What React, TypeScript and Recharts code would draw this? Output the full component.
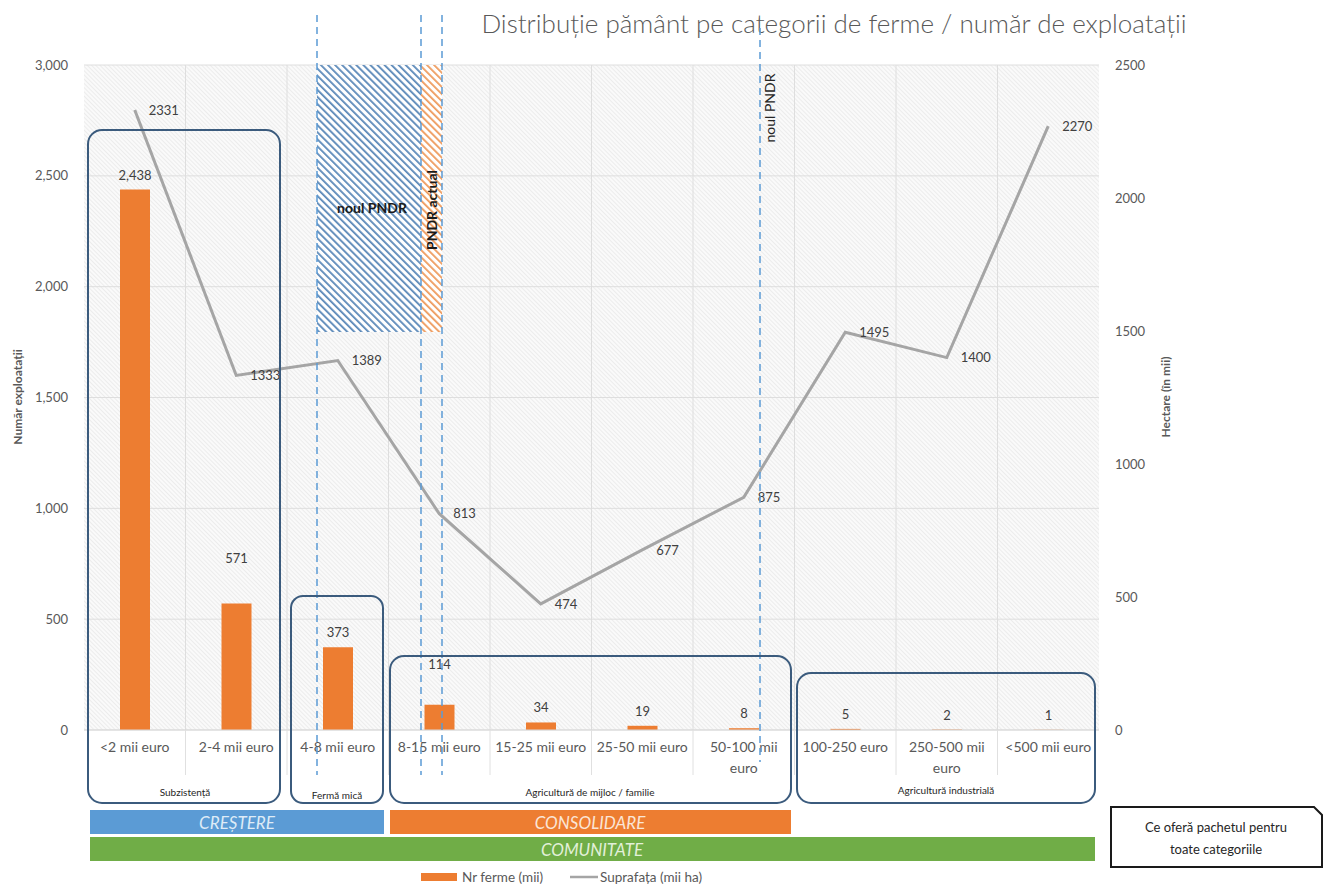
import React from "react";
import {
  ComposedChart,
  Bar,
  Line,
  XAxis,
  YAxis,
  CartesianGrid,
  LabelList,
} from "recharts";

// categorii (prag de dimensiune economica)
const categories = [
  "<2 mii euro",
  "2-4 mii euro",
  "4-8 mii euro",
  "8-15 mii euro",
  "15-25 mii euro",
  "25-50 mii euro",
  "50-100 mii\neuro",
  "100-250 euro",
  "250-500 mii\neuro",
  "<500 mii euro",
];
// Nr ferme (mii)
const nrFerme = [2438, 571, 373, 114, 34, 19, 8, 5, 2, 1];
// Suprafata (mii ha)
const suprafata = [2331, 1333, 1389, 813, 474, 677, 875, 1495, 1400, 2270];

const leftTicks = [0, 500, 1000, 1500, 2000, 2500, 3000];
const rightTicks = [0, 500, 1000, 1500, 2000, 2500];

const data = categories.map((cat, i) => ({
  cat,
  ferme: nrFerme[i],
  suprafata: suprafata[i],
}));

// some bar labels were pushed up in the original
const barLabelRaise: Record<number, number> = { 1: 30, 3: 26 };

const W = 1324;
const H = 884;
const PLOT_LEFT = 84;
const PLOT_RIGHT = 1099;
const PLOT_TOP = 65;
const PLOT_BOTTOM = 730;
const BAND = (PLOT_RIGHT - PLOT_LEFT) / categories.length;

const FONT = "Lato, 'Open Sans', sans-serif";
const GREY = "#595959";

const CatTick = (props: any) => {
  const { x, y, payload } = props;
  const lines = String(payload.value).split("\n");
  return (
    <g>
      {lines.map((l, i) => (
        <text
          key={i}
          x={x}
          y={y + 14 + i * 21}
          textAnchor="middle"
          fontSize={14}
          fill={GREY}
        >
          {l}
        </text>
      ))}
    </g>
  );
};

const BarValueLabel = (props: any) => {
  const { x, y, width, value, index } = props;
  const raise = barLabelRaise[index] || 0;
  return (
    <text
      x={x + width / 2}
      y={y - 10 - raise}
      textAnchor="middle"
      fontSize={13}
      fill="#404040"
    >
      {Number(value).toLocaleString("en-US")}
    </text>
  );
};

function Overlay() {
  const box = "#3b5b7d";
  const dash = "#5b9bd5";
  const sep = [];
  for (let i = 1; i < categories.length; i++) {
    const x = PLOT_LEFT + i * BAND;
    sep.push(
      <line key={i} x1={x} x2={x} y1={PLOT_BOTTOM} y2={775} stroke="#e0e0e0" />
    );
  }
  return (
    <svg
      width={W}
      height={H}
      style={{ position: "absolute", left: 0, top: 0, pointerEvents: "none" }}
    >
      <defs>
        <pattern id="hatchBlue" width="5" height="5" patternUnits="userSpaceOnUse" patternTransform="rotate(-45)">
          <rect width="5" height="5" fill="#ffffff" />
          <rect width="1.8" height="5" fill="#5a88b8" />
        </pattern>
        <pattern id="hatchOrange" width="5" height="5" patternUnits="userSpaceOnUse" patternTransform="rotate(-45)">
          <rect width="5" height="5" fill="#ffffff" />
          <rect width="1.8" height="5" fill="#ee9a5c" />
        </pattern>
      </defs>

      {sep}

      {/* title */}
      <text x={834} y={33} textAnchor="middle" fontSize={26} fontWeight={300} fill={GREY}>
        Distribuție pământ pe categorii de ferme / număr de exploatații
      </text>

      {/* axis titles */}
      <text transform="translate(22,397) rotate(-90)" textAnchor="middle" fontSize={12} fontWeight={700} fill={GREY}>
        Număr exploatații
      </text>
      <text transform="translate(1170,397) rotate(-90)" textAnchor="middle" fontSize={12} fontWeight={700} fill={GREY}>
        Hectare (în mii)
      </text>

      {/* hatched zones */}
      <rect x={317} y={PLOT_TOP} width={104} height={267} fill="url(#hatchBlue)" />
      <rect x={421} y={PLOT_TOP} width={21} height={267} fill="url(#hatchOrange)" />
      <text x={372} y={213} textAnchor="middle" fontSize={14} fontWeight={700} fill="#1a1a1a">
        noul PNDR
      </text>
      <text transform="translate(437,210) rotate(-90)" textAnchor="middle" fontSize={14} fontWeight={700} fill="#1a1a1a">
        PNDR actual
      </text>

      {/* dashed limits */}
      {[317, 421, 442].map((x) => (
        <line key={x} x1={x} x2={x} y1={15} y2={775} stroke={dash} strokeWidth={1.5} strokeDasharray="7 5" />
      ))}
      <line x1={760} x2={760} y1={28} y2={762} stroke={dash} strokeWidth={1.5} strokeDasharray="7 5" />
      <text transform="translate(775,108) rotate(-90)" textAnchor="middle" fontSize={14} fill="#262626">
        noul PNDR
      </text>

      {/* category groups */}
      <rect x={88} y={130} width={192} height={673} rx={14} fill="none" stroke={box} strokeWidth={2} />
      <rect x={291} y={596} width={92} height={207} rx={12} fill="none" stroke={box} strokeWidth={2} />
      <rect x={390} y={656} width={401} height={147} rx={14} fill="none" stroke={box} strokeWidth={2} />
      <rect x={797} y={673} width={298} height={130} rx={14} fill="none" stroke={box} strokeWidth={2} />
      <g fontSize={10} fill="#262626" textAnchor="middle">
        <text x={185} y={796}>Subzistență</text>
        <text x={337} y={799}>Fermă mică</text>
        <text x={590} y={796}>Agricultură de mijloc / familie</text>
        <text x={946} y={794}>Agricultură industrială</text>
      </g>

      {/* bands */}
      <rect x={90} y={810} width={294} height={24} fill="#5b9bd5" />
      <rect x={390} y={810} width={401} height={24} fill="#ed7d31" />
      <rect x={90} y={837} width={1005} height={24} fill="#70ad47" />
      <g fontSize={17} fontStyle="italic" textAnchor="middle">
        <text x={237} y={829} fill="#deebf7">CREȘTERE</text>
        <text x={590} y={829} fill="#fbe5d6">CONSOLIDARE</text>
        <text x={592} y={856} fill="#e2f0d9">COMUNITATE</text>
      </g>

      {/* side note */}
      <path d="M1111,807 L1314,807 L1322,815 L1322,867 L1111,867 Z" fill="#fff" stroke="#1a1a1a" strokeWidth={2} />
      <g fontSize={13} fill="#262626" textAnchor="middle">
        <text x={1216} y={832}>Ce oferă pachetul pentru</text>
        <text x={1216} y={854}>toate categoriile</text>
      </g>

      {/* legend */}
      <rect x={421} y={873} width={36} height={8} fill="#ed7d31" />
      <text x={462} y={882} fontSize={13.5} fill={GREY}>Nr ferme (mii)</text>
      <line x1={570} x2={598} y1={877} y2={877} stroke="#a5a5a5" strokeWidth={2.5} />
      <text x={600} y={882} fontSize={13.5} fill={GREY}>Suprafața (mii ha)</text>
    </svg>
  );
}

export default function App() {
  return (
    <div
      style={{
        position: "absolute",
        left: 0,
        top: 0,
        width: W,
        height: H,
        background: "#fff",
        fontFamily: FONT,
      }}
    >
      <svg width={0} height={0} style={{ position: "absolute" }}>
        <defs>
          <pattern id="plotHatch" width="3" height="3" patternUnits="userSpaceOnUse" patternTransform="rotate(-45)">
            <rect width="3" height="3" fill="#fafafa" />
            <rect width="1" height="3" fill="#ececec" />
          </pattern>
        </defs>
      </svg>
      <ComposedChart
        width={W}
        height={H}
        data={data}
        margin={{ top: PLOT_TOP, right: 0, left: 0, bottom: 0 }}
      >
        <CartesianGrid
          yAxisId="left"
          stroke="#dedede"
          fill="url(#plotHatch)"
          verticalCoordinatesGenerator={({ offset }: any) =>
            categories.slice(1).map((_, i) => offset.left + ((i + 1) * offset.width) / categories.length)
          }
        />
        <XAxis
          dataKey="cat"
          height={H - PLOT_BOTTOM}
          tickLine={false}
          axisLine={{ stroke: "#d9d9d9" }}
          tick={<CatTick />}
          interval={0}
        />
        <YAxis
          yAxisId="left"
          width={PLOT_LEFT}
          domain={[0, 3000]}
          ticks={leftTicks}
          tickFormatter={(v) => Number(v).toLocaleString("en-US")}
          axisLine={false}
          tickLine={false}
          tickMargin={10}
          tick={{ fontSize: 13, fill: GREY }}
        />
        <YAxis
          yAxisId="right"
          orientation="right"
          width={W - PLOT_RIGHT}
          domain={[0, 2500]}
          ticks={rightTicks}
          axisLine={false}
          tickLine={false}
          tickMargin={10}
          tick={{ fontSize: 13, fill: GREY }}
        />
        <Bar yAxisId="left" dataKey="ferme" name="Nr ferme (mii)" fill="#ed7d31" barSize={30} isAnimationActive={false}>
          <LabelList dataKey="ferme" content={<BarValueLabel />} />
        </Bar>
        <Line
          yAxisId="right"
          type="linear"
          dataKey="suprafata"
          name="Suprafața (mii ha)"
          stroke="#a5a5a5"
          strokeWidth={3}
          dot={false}
          isAnimationActive={false}
        >
          <LabelList dataKey="suprafata" position="right" offset={14} fontSize={13} fill="#404040" />
        </Line>
      </ComposedChart>
      <Overlay />
    </div>
  );
}
